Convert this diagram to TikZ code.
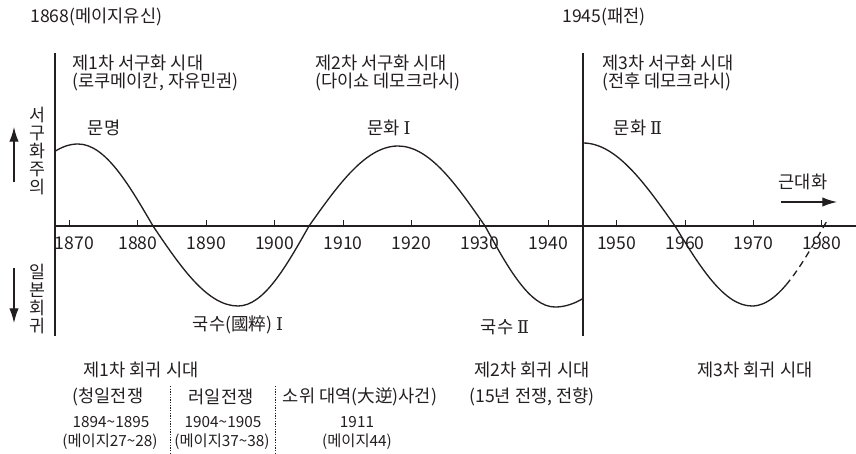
\documentclass[tikz,border=0pt]{standalone}
\usepackage{fontspec}
\setmainfont{Noto Sans CJK KR}
\newfontfamily\romfont{DejaVu Serif}
\usetikzlibrary{arrows.meta}
\definecolor{ink}{HTML}{231F20}
\begin{document}
\begin{tikzpicture}[x=0.75pt,y=-0.75pt,
  lbl/.style={inner sep=0pt, font=\fontsize{13.2}{14}\selectfont, text=ink},
  sml/.style={inner sep=0pt, font=\fontsize{11.5}{13}\selectfont, text=ink},
  vert/.style={inner sep=0pt, align=center, font=\fontsize{13}{13.5}\selectfont, text=ink},
  frame/.style={draw=ink, line width=0.8pt},
  wave/.style={draw=ink, line width=1pt},
  tickmark/.style={draw=ink, line width=0.8pt},
  arr/.style={draw=ink, line width=0.9pt, -{Latex[length=11pt,width=7pt]}},
  sepline/.style={draw=ink, line width=0.5pt, dash pattern=on 1pt off 1pt}]
\useasboundingbox (0,0) rectangle (856,453);
% frame lines
\coordinate (ltop) at (55,53);
\coordinate (lbot) at (55,336);
\coordinate (mtop) at (583,53);
\coordinate (mbot) at (583,336);
\coordinate (axl) at (55,226);
\coordinate (axr) at (856,226);
\draw[frame] (ltop) -- (lbot);
\draw[frame] (mtop) -- (mbot);
\draw[frame] (axl) -- (axr);
% ticks and year labels
\foreach \k/\yr in {0/1870,1/1880,2/1890,3/1900,4/1910,5/1920,6/1930,7/1940,8/1950,9/1960,10/1970,11/1980}{
  \coordinate (tk\yr) at ({69.5+68.4*\k},226);
  \draw[tickmark] (tk\yr) -- ++(0,-6);
}
\node[lbl] (y1870) at (74.5,243) {1870};
\foreach \k/\yr in {1/1880,2/1890,3/1900,4/1910,5/1920,6/1930,7/1940,8/1950,9/1960,10/1970,11/1980}{
  \node[lbl] (y\yr) at ({69.5+68.4*\k},243) {\yr};
}
% waves
\draw[wave] plot[domain=55:78, samples=20] (\x,{226-82*cos((\x-78)/85*90)})
  cos (153,226) sin (238,306) cos (309,226) sin (398,146) cos (485,226) sin (555,307);
\draw[wave] plot[domain=555:583, samples=15] (\x,{226+81*cos((\x-555)/95*90)});
\draw[wave] (583,143) cos (675,226) sin (752,306);
\draw[wave] plot[domain=752:786, samples=15] (\x,{226+80*cos((\x-752)/72*90)});
\draw[wave, dash pattern=on 5pt off 3.5pt] plot[domain=786:828, samples=20] (\x,{226+80*cos((\x-752)/72*90)});
% top labels
\node[lbl, anchor=west] (t1868) at (30,17) {1868(메이지유신)};
\node[lbl, anchor=west] (t1945) at (562,17) {1945(패전)};
\node[lbl, anchor=west] (w1a) at (72,63) {제1차 서구화 시대};
\node[lbl, anchor=west] (w1b) at (72,82) {(로쿠메이칸, 자유민권)};
\node[lbl, anchor=west] (w2a) at (315,63) {제2차 서구화 시대};
\node[lbl, anchor=west] (w2b) at (315,82) {(다이쇼 데모크라시)};
\node[lbl, anchor=west] (w3a) at (602,63) {제3차 서구화 시대};
\node[lbl, anchor=west] (w3b) at (602,82) {(전후 데모크라시)};
% peak / trough labels
\node[lbl] (munmyeong) at (104,128) {문명};
\node[lbl] (munhwa1) at (389,128) {문화 {\romfont Ⅰ}};
\node[lbl] (munhwa2) at (638,128) {문화 {\romfont Ⅱ}};
\node[lbl] (gunsu1) at (238,325) {국수(國粹) {\romfont Ⅰ}};
\node[lbl] (gunsu2) at (505,327) {국수 {\romfont Ⅱ}};
% modernization arrow
\node[lbl] (modern) at (803,182) {근대화};
\coordinate (ma) at (781,202);
\coordinate (mb) at (837,202);
\draw[arr] (ma) -- (mb);
% left vertical labels and arrows
\node[vert] (westism) at (37,151) {서\\구\\화\\주\\의};
\node[vert] (japret) at (37,299) {일\\본\\회\\귀};
\coordinate (ua) at (14,182);
\coordinate (ub) at (14,127);
\coordinate (da) at (14,268);
\coordinate (db) at (14,323);
\draw[arr] (ua) -- (ub);
\draw[arr] (da) -- (db);
% bottom labels
\node[lbl] (r1a) at (141,370) {제1차 회귀 시대};
\node[lbl] (r1b) at (108,397) {(청일전쟁};
\node[lbl] (r1c) at (221,397) {러일전쟁};
\node[lbl] (r1d) at (360,397) {소위 대역(大逆)사건)};
\node[sml] (d1a) at (111,422) {1894\textasciitilde1895};
\node[sml] (d1b) at (110,442) {(메이지27\textasciitilde28)};
\node[sml] (d2a) at (223,422) {1904\textasciitilde1905};
\node[sml] (d2b) at (222,442) {(메이지37\textasciitilde38)};
\node[sml] (d3a) at (357,422) {1911};
\node[sml] (d3b) at (357,442) {(메이지44)};
\node[lbl] (r2a) at (532,370) {제2차 회귀 시대};
\node[lbl] (r2b) at (532,397) {(15년 전쟁, 전향)};
\node[lbl] (r3a) at (755,370) {제3차 회귀 시대};
\coordinate (s1t) at (170,386);
\coordinate (s1b) at (170,453);
\coordinate (s2t) at (275,386);
\coordinate (s2b) at (275,453);
\draw[sepline] (s1t) -- (s1b);
\draw[sepline] (s2t) -- (s2b);
\end{tikzpicture}
\end{document}
